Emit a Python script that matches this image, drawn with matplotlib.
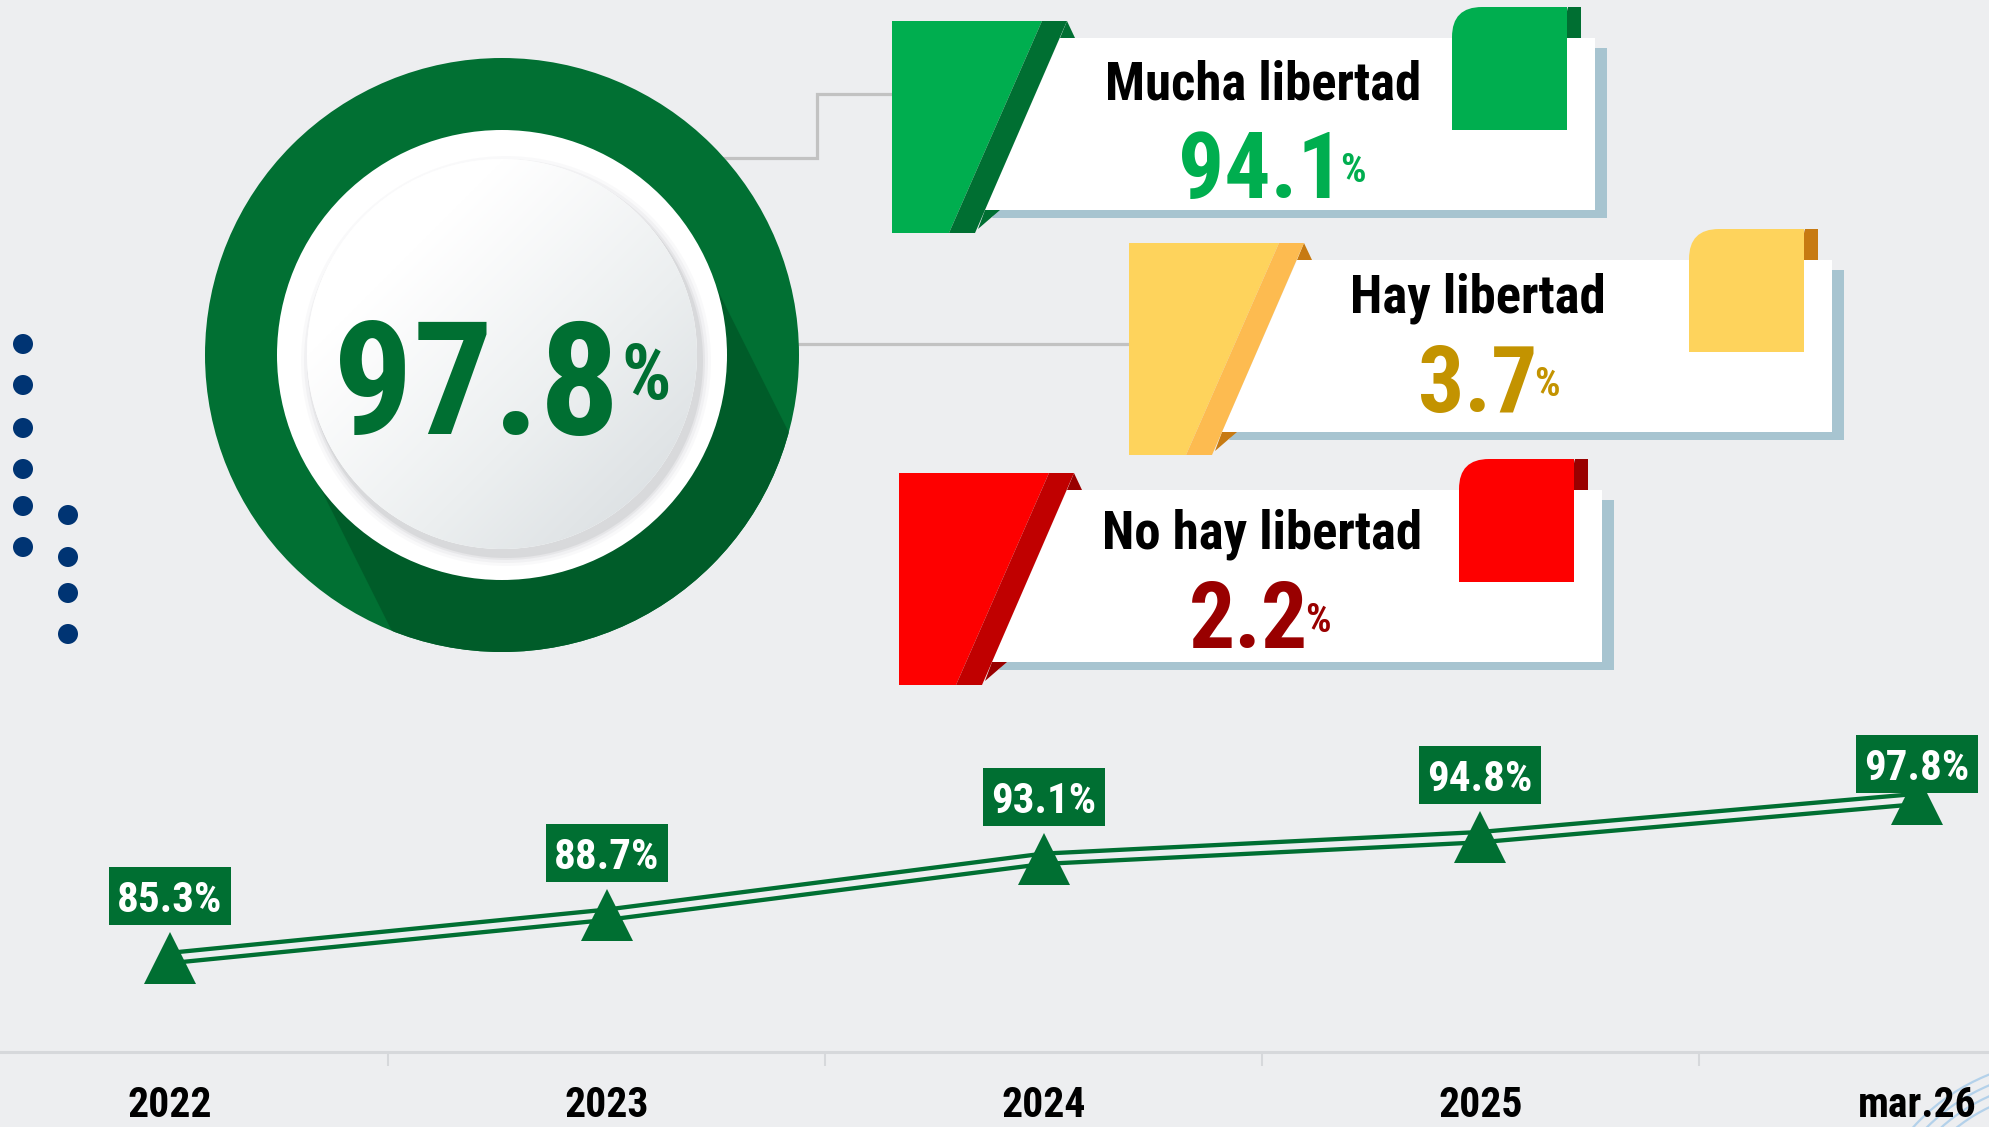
import numpy as np
import matplotlib
matplotlib.use("Agg")
import matplotlib.pyplot as plt
from matplotlib import font_manager as fm
from matplotlib import transforms as mtransforms
from matplotlib.patches import Polygon, Circle, Rectangle, PathPatch, Arc
from matplotlib.path import Path
from matplotlib.colors import LinearSegmentedColormap

# ---------------- data ----------------
periodos = ['2022', '2023', '2024', '2025', 'mar.26']
libertad_total = [85.3, 88.7, 93.1, 94.8, 97.8]
etiquetas_total = ['85.3%', '88.7%', '93.1%', '94.8%', '97.8%']

categorias = ['Mucha libertad', 'Hay libertad', 'No hay libertad']
porcentajes = [94.1, 3.7, 2.2]
total_actual = 97.8

# ---------------- fonts ----------------
def _w(e):
    w = e.weight
    if isinstance(w, str):
        w = fm.weight_dict.get(w, 400)
    return w

def pick_font():
    prefs = ['Liberation Sans Narrow', 'Roboto Condensed', 'Open Sans Condensed',
             'Noto Sans Condensed', 'DejaVu Sans Condensed', 'Noto Sans Display Condensed']
    ents = fm.fontManager.ttflist
    for p in prefs:
        c = [e for e in ents if e.name == p and e.style == 'normal' and _w(e) >= 700]
        if c:
            return c[0].fname
    c = [e for e in ents if e.stretch in ('condensed', 'semi-condensed', 'extra-condensed')
         and e.style == 'normal' and _w(e) >= 700]
    if c:
        return c[0].fname
    return None

FONT_FILE = pick_font()

def fp(size):
    if FONT_FILE:
        return fm.FontProperties(fname=FONT_FILE, size=size)
    return fm.FontProperties(family='DejaVu Sans', weight='bold', size=size)

BG = '#edeef0'
GREEN = '#006f32'

fig = plt.figure(figsize=(19.9, 11.27), dpi=100, facecolor=BG)
renderer = fig.canvas.get_renderer()

# ---------------- decoration axes (pixel coordinates) ----------------
deco = fig.add_axes([0, 0, 1, 1], zorder=0)
deco.set_xlim(0, 1990)
deco.set_ylim(1127, 0)
deco.axis('off')
deco.set_facecolor(BG)

# dots on left
for y in [344, 385, 428, 469, 506, 547]:
    deco.add_patch(Circle((23, y), 10, color='#003473', lw=0))
for y in [515, 557, 593, 634]:
    deco.add_patch(Circle((68, y), 10, color='#003473', lw=0))

# connector lines
deco.plot([700, 817, 817, 893], [158, 158, 94, 94], color='#c2c2c2', lw=2.3,
          solid_joinstyle='miter', zorder=1)
deco.plot([700, 1129], [344, 344], color='#c2c2c2', lw=2.3, zorder=1)

# big ring
cx, cy = 502, 355
outer = Circle((cx, cy), 297, color='#017033', lw=0, zorder=2)
deco.add_patch(outer)
d = np.array([0.447, 0.894])
n = np.array([0.894, -0.447])
r_sh = 222
c = np.array([cx, cy])
pts = [c + r_sh * n, c + r_sh * n + 700 * d, c - r_sh * n + 700 * d, c - r_sh * n]
shadow = Polygon(pts, closed=True, color='#005c29', lw=0, zorder=2.1)
deco.add_patch(shadow)
shadow.set_clip_path(outer)
deco.add_patch(Circle((cx, cy), 225, color='white', lw=0, zorder=2.2))
for k, a in [(10, 0.04), (7, 0.06), (4, 0.09), (2, 0.12)]:
    deco.add_patch(Circle((cx + 4, cy + 6), 195 + k, color='#7a7f84', alpha=a, lw=0, zorder=2.3))
inner = Circle((cx, cy - 1), 195, color='white', lw=0, zorder=2.4)
deco.add_patch(inner)
N = 300
yy, xx = np.mgrid[0:1:N * 1j, 0:1:N * 1j]
g = np.clip(((xx + yy) / 2 - 0.25) / 0.75, 0, 1)
cmap = LinearSegmentedColormap.from_list('g', ['#ffffff', '#eceff0', '#d6dbde'])
im = deco.imshow(g, cmap=cmap, extent=(cx - 195, cx + 195, cy + 194, cy - 196),
                 origin='upper', zorder=2.5, interpolation='bilinear')
im.set_clip_path(inner)
deco.set_xlim(0, 1990)
deco.set_ylim(1127, 0)


def value_group(xc, y_num, y_pct, num_txt, num_size, pct_size, color, gap=3, z=4):
    """Place a number and a small % sign, the pair centred at xc (pixels)."""
    t1 = deco.text(0, y_num, num_txt, ha='left', va='baseline', color=color,
                   fontproperties=fp(num_size), zorder=z)
    t2 = deco.text(0, y_pct, '%', ha='left', va='baseline', color=color,
                   fontproperties=fp(pct_size), zorder=z)
    w1 = t1.get_window_extent(renderer).width
    w2 = t2.get_window_extent(renderer).width
    x0 = xc - (w1 + gap + w2) / 2
    t1.set_x(x0)
    t2.set_x(x0 + w1 + gap)


value_group(cx, 434, 399, f'{total_actual:.1f}', 114, 56, GREEN, gap=2, z=3)

# cards
def card(bx, by, light, stripe, dark, shadow_c='#a7c4d0'):
    P = lambda x, y: (bx + x, by + y)
    deco.add_patch(Polygon([P(190, 27), P(715, 27), P(715, 197), P(100, 197)],
                           closed=True, color=shadow_c, lw=0, zorder=2))
    curl = Path([P(673, 17), P(673, -4), P(676, -14), P(689, -14), P(689, 17), P(673, 17)],
                [Path.MOVETO, Path.CURVE3, Path.CURVE3, Path.LINETO, Path.LINETO, Path.CLOSEPOLY])
    deco.add_patch(PathPatch(curl, color=dark, lw=0, zorder=2.1))
    deco.add_patch(Polygon([P(168, 17), P(703, 17), P(703, 189), P(93, 189)],
                           closed=True, color='white', lw=0, zorder=2.2))
    rr = 30
    tab = Path([P(560, 109), P(560, -14 + rr), P(560, -14), P(560 + rr, -14),
                P(675, -14), P(675, 109), P(560, 109)],
               [Path.MOVETO, Path.LINETO, Path.CURVE3, Path.CURVE3,
                Path.LINETO, Path.LINETO, Path.CLOSEPOLY])
    deco.add_patch(PathPatch(tab, color=light, lw=0, zorder=2.3))
    deco.add_patch(Polygon([P(0, 0), P(150, 0), P(57, 212), P(0, 212)],
                           closed=True, color=light, lw=0, zorder=2.4))
    deco.add_patch(Polygon([P(150, 0), P(175, 0), P(83, 212), P(57, 212)],
                           closed=True, color=stripe, lw=0, zorder=2.4))
    deco.add_patch(Polygon([P(175, 0), P(183, 17), P(168, 17)],
                           closed=True, color=dark, lw=0, zorder=2.35))
    deco.add_patch(Polygon([P(93, 189), P(108, 189), P(86, 208)],
                           closed=True, color=dark, lw=0, zorder=2.35))

card(892, 21, '#00ae4f', '#006f32', '#006f32')
card(1129, 243, '#fed35c', '#fdbb50', '#c77a12')
card(899, 473, '#fe0000', '#c00000', '#990000')

card_text = [
    # title xy, number group centre x, number baseline, % baseline, colour
    ((1263, 99), 1272, 198, 182, '#00ae4f'),
    ((1478, 312), 1489, 412, 396, '#c39300'),
    ((1262, 549), 1260, 648, 632, '#990000'),
]
for cat, val, (t_xy, gx, yb, yp, col) in zip(categorias, porcentajes, card_text):
    deco.text(*t_xy, cat, ha='center', va='baseline', color='black',
              fontproperties=fp(38), zorder=4)
    value_group(gx, yb, yp, f'{val:.1f}', 66, 29, col, gap=-3)

# faint arcs bottom right
for rad in [175, 185, 195, 205]:
    deco.add_patch(Arc((2065, 1265), 2 * rad, 2 * rad, theta1=0, theta2=360,
                       color='#b3d1ea', lw=1.6, zorder=1))

# ---------------- line chart axes ----------------
ax = fig.add_axes([0, 75 / 1127, 1, 352 / 1127], zorder=1)
ax.patch.set_alpha(0)
x = np.arange(len(periodos))
ax.set_xlim(-0.3892, 4.1671)
ax.set_ylim(77.91, 105.58)

ax.plot(x, libertad_total, color=GREEN, lw=10.5, solid_capstyle='butt', zorder=2)
ax.plot(x, libertad_total, color=BG, lw=4.3, solid_capstyle='butt', zorder=2.1)
ax.plot(x, libertad_total, ls='none', marker='^', ms=37.5, mew=0, color=GREEN, zorder=3)

for s in ['top', 'left', 'right']:
    ax.spines[s].set_visible(False)
ax.spines['bottom'].set_color('#d6d8db')
ax.spines['bottom'].set_linewidth(2.2)
ax.set_yticks([])
ax.set_xticks(x)
ax.set_xticklabels(periodos)
ax.tick_params(axis='x', which='major', length=0, pad=24)
for lab in ax.get_xticklabels():
    lab.set_fontproperties(fp(30))
    lab.set_color('black')
ax.set_xticks(x[:-1] + 0.5, minor=True)
ax.tick_params(axis='x', which='minor', length=10, width=1.5, color='#d6d8db')

# value boxes (derived from data positions)
fig.canvas.draw()
ident = mtransforms.IdentityTransform()
TOP_LIMIT = 1127 - 735
for xi, v, lab in zip(x, libertad_total, etiquetas_total):
    X, Y = ax.transData.transform((xi, v))
    top = min(Y + 91, TOP_LIMIT)
    bottom = top - 58
    ax.add_patch(Rectangle((X - 61, bottom), 122, 58, transform=ident,
                           color=GREEN, lw=0, zorder=4, clip_on=False))
    ax.text(X, bottom + 13, lab, transform=ident, ha='center', va='baseline',
            color='white', fontproperties=fp(31), zorder=5, clip_on=False)

fig.savefig('out.png', dpi=100, facecolor=BG)
